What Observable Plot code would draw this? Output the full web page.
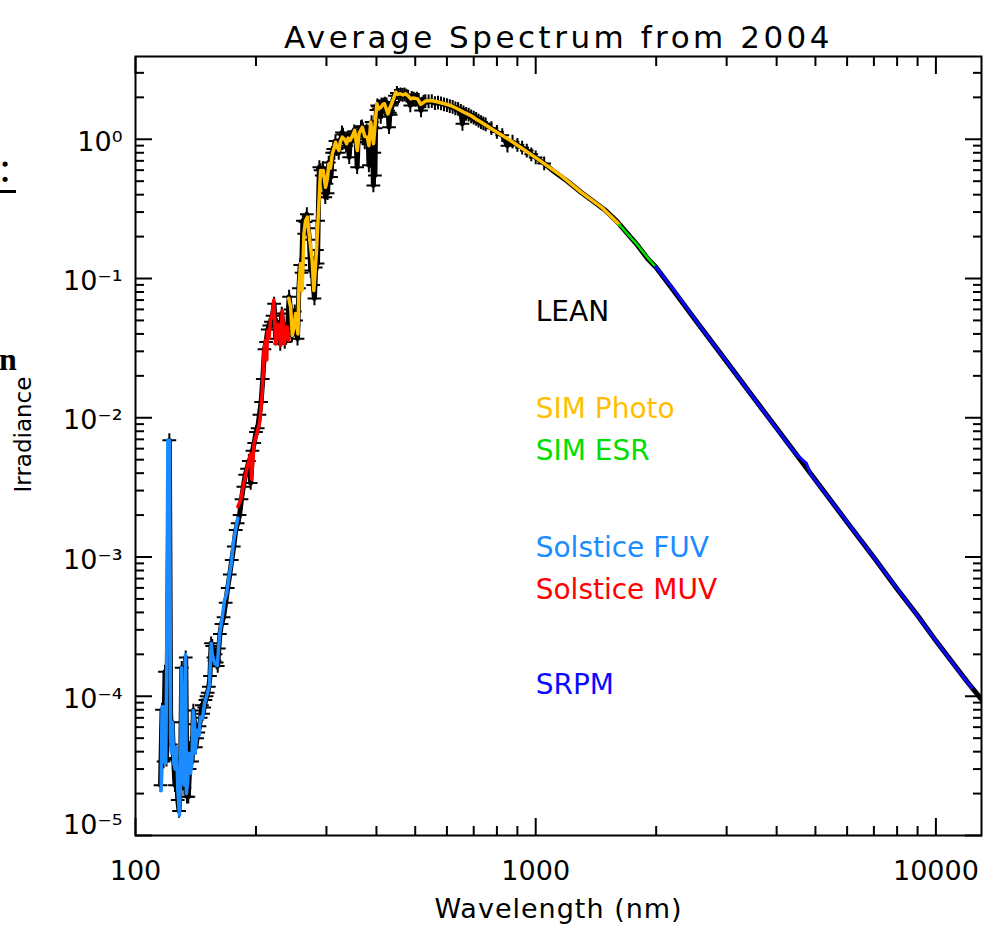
<!DOCTYPE html>
<html><head><meta charset="utf-8">
<script src="https://cdn.jsdelivr.net/npm/d3@7"></script>
<script src="https://cdn.jsdelivr.net/npm/@observablehq/plot@0.6"></script>
<style>
html,body{margin:0;padding:0;background:#fff;overflow:hidden;}
#wrap{position:relative;width:984px;height:928px;}
.side{position:absolute;font-family:"Liberation Serif","DejaVu Serif",serif;color:#000;line-height:1;}
</style></head><body>
<div id="wrap">
  <div class="side" style="left:-1px;top:146px;font-size:44px;">:</div>
  <div style="position:absolute;left:0;top:190px;width:16px;height:3px;background:#000;"></div>
  <div class="side" style="left:-1px;top:343px;font-size:32px;font-weight:bold;">n</div>
</div>
<script>
// ---- Solstice FUV (light blue)
const fuvWave = [115.9,116.5,117.3,117.7,119.0,119.6,120.5,121.6,122.4,123.0,123.7,124.7,125.6,126.6,127.6,128.8,129.6,130.3,131.3,132.3,133.4,134.0,135.0,135.9,137.2,138.3,139.4,140.4,140.9,142.6,144.0,145.3,147.0,148.8,151.1,153.0,154.6,155.5,157.0,158.5,160.1,162.3,164.7,166.9,168.9,171.2,173.5,175.5,177.8,180.2];
const fuvIrr  = [2.1e-5,8.4e-5,8.4e-5,3.4e-5,3.3e-5,1.5e-4,6.9e-3,6.9e-3,5.0e-5,3.9e-5,6.5e-5,3.3e-5,3.0e-5,4.3e-5,2.1e-5,1.4e-5,2.5e-5,1.6e-4,2.8e-5,2.3e-5,2.0e-4,2.0e-5,2.4e-5,3.9e-5,2.8e-5,3.3e-5,7.9e-5,6.5e-5,3.9e-5,5.7e-5,5.2e-5,7.1e-5,6.9e-5,8.9e-5,1.04e-4,1.2e-4,2.4e-4,2.0e-4,1.8e-4,1.7e-4,1.66e-4,2.8e-4,3.7e-4,4.9e-4,5.4e-4,7.2e-4,9.0e-4,1.25e-3,1.56e-3,1.9e-3];

// ---- Solstice MUV (red)
const muvWave = [180.2,183.0,186.6,189.5,192.0,193.9,195.0,197.8,201.0,204.6,207.2,208.4,209.0,211.3,212.8,213.6,215.5,217.4,219.5,221.6,223.0,223.9,226.8,228.5,230.4,232.6,235.6,237.5,239.3,241.5];
const muvIrr  = [2.3e-3,2.55e-3,3.4e-3,4.2e-3,4.9e-3,5.5e-3,3.6e-3,6.5e-3,7.7e-3,9.5e-3,1.49e-2,2.07e-2,2.88e-2,3.6e-2,2.6e-2,4.2e-2,3.7e-2,5.0e-2,5.5e-2,7.0e-2,4.8e-2,3.4e-2,4.7e-2,4.4e-2,3.3e-2,5.9e-2,3.4e-2,4.1e-2,4.5e-2,3.6e-2];

// ---- SIM Photo (orange)
const photoWave = [241.5,244.2,246.5,249,251.2,254.6,256.1,258.5,260.8,263.6,266,268.8,272,276.3,278.9,281,283.3,287.2,290,292,294.5,298.5,301.5,304.3,307,310.3,313,316.2,319,322.3,325,328.7,333,337.1,340,343.6,348,352.9,356,358.3,362,368.7,374,379.6,383,387,393.3,396.4,401,405,410.8,415,418.9,427.4,431,436.5,441,447.2,452,459.3,466,473.2,480,487.5,495,506.8,516,521.9,530,548.3,570,592.9,615,638.9,660,688.7,713.2,729.6,785.6,864.9,1023,1155,1298,1459,1618];
const photoIrr  = [0.072,0.062,0.039,0.045,0.056,0.040,0.087,0.128,0.082,0.21,0.26,0.276,0.20,0.135,0.082,0.11,0.159,0.344,0.597,0.55,0.597,0.453,0.52,0.667,0.62,0.787,0.85,0.953,0.88,0.83,0.96,1.035,1.0,0.93,1.02,0.98,1.05,1.16,0.95,0.83,1.1,1.22,1.05,1.035,0.9,1.33,0.93,1.22,1.8,1.65,1.7,1.78,1.8,1.52,1.65,1.8,1.95,2.18,2.1,2.12,2.08,2.12,2.05,1.95,1.98,1.95,1.78,1.82,1.88,1.9,1.85,1.8,1.74,1.65,1.57,1.48,1.38,1.33,1.16,0.98,0.705,0.55,0.417,0.326,0.244];

// ---- SIM ESR (green)
const esrWave = [1618,1693,1800,1896,1995];
const esrIrr  = [0.244,0.21,0.173,0.143,0.121];

// ---- SRPM (blue)
const srpmWave = [1995,2220,2586,3000,3652,4438,4750,4870,5500,6494,7500,8660,10000,11548,12300];
const srpmIrr  = [0.121,0.082,0.0446,0.0253,0.0118,5.6e-3,4.7e-3,3.9e-3,2.48e-3,1.32e-3,7.6e-4,4.38e-4,2.5e-4,1.44e-4,1.15e-4];

// ---- LEAN (black with + markers)
const leanWave = [115.5,116.5,117.5,118.5,119.5,121.5,122.5,123.5,124.5,125.5,126.5,127.5,128.5,129.5,130.5,131.5,132.5,133.5,134.5,135.5,136.5,137.5,138.5,139.5,140.5,141.5,142.5,143.5,144.5,145.5,146.5,147.5,148.5,149.5,150.5,151.5,152.5,153.5,154.5,155.5,156.5,157.5,158.5,159.5,160.5,161.5,162.5,164,166,168,170,172,174,176,178,180,182,184,186,188,190,192,194,196,198,200,202,204,206,208,210,212,214,216,218,220,222,224,226,228,230,232,234,236,238,240,242,244,246,248,250,252,254,256,258,260,262,264,266,268,270,272,274,276,278,280,282,284,285,286,288,290,292,294,296,298,300,302,304,306,308,310,312,314,316,318,320,322,324,326,328,330,332,334,336,338,340,342,344,346,348,350,352,354,356,358,360,362,364,366,368,370,372,374,376,378,380,382,383,385,387,389,391,393,395,396.5,398,400,402,404,406,408,410,412,414,416,418,420,422,424,426,428,430,432,434,436,438,440,445,450,455,460,465,470,475,480,486,490,495,500,505,510,517,520,525,530,540,550,560,570,580,590,600,610,620,630,640,650,656,660,670,680,690,700,710,720,730,740,750,775,800,825,850,875,900,925,950,975,1000,1050,1100,1200,1300,1400,1500,1600,1700,1800,1900,2000,2200,2500,3000,3500,4000,4500,5000,6000,7000,8000,9000,10000,11000,12000,13000];
const leanIrr  = [2.3e-5,8.0e-5,3.4e-5,1.5e-4,3.5e-5,6.9e-3,4.5e-5,6.5e-5,3.6e-5,2.3e-5,3.6e-5,1.8e-5,1.5e-5,2.4e-5,1.6e-4,2.6e-5,2.2e-5,1.9e-4,1.9e-5,1.9e-5,3.0e-5,4.6e-5,3.4e-5,7.9e-5,6.3e-5,4.3e-5,5.0e-5,5.5e-5,6.1e-5,7.0e-5,8.6e-5,7.5e-5,8.3e-5,9.4e-5,1.0e-4,1.06e-4,1.17e-4,1.4e-4,2.4e-4,2.3e-4,1.9e-4,1.8e-4,2.0e-4,1.75e-4,1.65e-4,2.2e-4,2.8e-4,3.3e-4,3.7e-4,4.7e-4,6.0e-4,7.5e-4,9.5e-4,1.19e-3,1.56e-3,1.75e-3,2.0e-3,2.6e-3,3.2e-3,3.9e-3,4.3e-3,4.9e-3,3.4e-3,5.8e-3,6.6e-3,7.9e-3,8.4e-3,1.05e-2,1.3e-2,1.9e-2,3.1e-2,3.5e-2,4.3e-2,4.6e-2,4.9e-2,5.4e-2,6.6e-2,3.7e-2,4.6e-2,4.5e-2,3.4e-2,5.6e-2,4.2e-2,3.5e-2,4.3e-2,4.4e-2,7.4e-2,6.0e-2,3.9e-2,4.6e-2,5.8e-2,5.0e-2,3.7e-2,8.5e-2,0.125,0.11,0.26,0.21,0.255,0.29,0.23,0.19,0.114,0.14,0.09,0.072,0.12,0.16,0.128,0.26,0.63,0.60,0.55,0.62,0.52,0.384,0.48,0.41,0.68,0.60,0.535,0.80,0.85,0.80,0.97,0.85,0.87,0.80,0.98,0.95,1.12,1.08,1.0,0.95,0.90,0.96,1.0,0.744,1.0,0.98,1.05,1.08,1.14,1.10,0.95,0.63,1.0,1.08,1.12,1.22,1.24,1.18,1.05,0.95,1.12,1.16,1.1,0.92,0.65,0.95,1.2,1.33,1.22,0.466,0.80,0.55,1.2,1.62,1.75,1.72,1.65,1.72,1.45,1.78,1.74,1.76,1.78,1.8,1.72,1.78,1.7,1.6,1.22,1.55,1.5,1.75,1.8,1.85,2.05,2.15,2.08,2.1,2.08,2.1,2.06,2.02,1.75,1.98,1.96,1.93,1.96,1.92,1.61,1.8,1.86,1.88,1.87,1.88,1.82,1.83,1.81,1.78,1.76,1.73,1.71,1.67,1.65,1.6,1.29,1.56,1.52,1.5,1.46,1.43,1.4,1.36,1.33,1.3,1.28,1.2,1.13,1.07,0.90,0.96,0.91,0.87,0.83,0.78,0.74,0.67,0.6,0.5,0.415,0.355,0.305,0.255,0.208,0.172,0.14,0.12,0.0835,0.0507,0.0253,0.014,8.4e-3,5.36e-3,3.57e-3,1.78e-3,9.9e-4,5.9e-4,3.8e-4,2.5e-4,1.75e-4,1.26e-4,9.5e-5];

// ---- axes / labels
const xLabelTicks = [100, 1000, 10000];
const xMajorTicks = [100, 1000, 10000];
const xMinorTicks = [200,300,400,500,600,700,800,900,2000,3000,4000,5000,6000,7000,8000,9000];
const yMajorTicks = [1e-5,1e-4,1e-3,1e-2,1e-1,1];
const yMinorTicks = [2e-5,3e-5,4e-5,5e-5,6e-5,7e-5,8e-5,9e-5,2e-4,3e-4,4e-4,5e-4,6e-4,7e-4,8e-4,9e-4,2e-3,3e-3,4e-3,5e-3,6e-3,7e-3,8e-3,9e-3,2e-2,3e-2,4e-2,5e-2,6e-2,7e-2,8e-2,9e-2,0.2,0.3,0.4,0.5,0.6,0.7,0.8,0.9,2,3];
const titleText = "Average Spectrum from 2004";
const xTitle = "Wavelength (nm)";
const yTitle = "Irradiance";

// ---- legend (in-plot labels)
const legendLabels = ["LEAN","SIM Photo","SIM ESR","Solstice FUV","Solstice MUV","SRPM"];
const legendColors = ["#000000","#FFBF00","#00E000","#1A8CFF","#FF0000","#0A0AFF"];
const legendY = [0.0574,0.0116,0.00576,0.00116,0.000583,0.00012];
const legendX = 1000;

const rows = (w, v) => w.map((d, i) => ({w: d, v: v[i]}));
const lean = rows(leanWave, leanIrr);
const leanMarks = lean.filter(d => d.w < 1100);
const fuv = rows(fuvWave, fuvIrr);
const muv = rows(muvWave, muvIrr);
const photo = rows(photoWave, photoIrr);
const esr = rows(esrWave, esrIrr);
const srpm = rows(srpmWave, srpmIrr);
const legend = legendLabels.map((t, i) => ({t, c: legendColors[i], y: legendY[i], x: legendX}));

const supMap = {"0":"⁰","1":"¹","2":"²","3":"³","4":"⁴","5":"⁵","6":"⁶","7":"⁷","8":"⁸","9":"⁹","-":"⁻"};
const supFmt = d => "10" + String(Math.round(Math.log10(d))).split("").map(c => supMap[c]).join("");

const FONT = "'DejaVu Sans', sans-serif";
const tickCommon = {label: null, tickFormat: () => "", strokeWidth: 2};

const chart = Plot.plot({
  width: 984, height: 928,
  marginLeft: 135, marginRight: 3, marginTop: 56, marginBottom: 93,
  x: {type: "log", domain: [100, 13000]},
  y: {type: "log", domain: [1e-5, 3.93]},
  color: {type: "identity"},
  style: {fontFamily: FONT, background: "white", color: "black", overflow: "visible"},
  marks: [
    Plot.line(lean, {x: "w", y: "v", stroke: "black", strokeWidth: 5, clip: true}),
    Plot.dot(leanMarks, {x: "w", y: "v", symbol: "plus", r: 4.5, stroke: "black", strokeWidth: 2, clip: true}),
    Plot.line(fuv, {x: "w", y: "v", stroke: legendColors[3], strokeWidth: 3.5, clip: true}),
    Plot.line(muv, {x: "w", y: "v", stroke: legendColors[4], strokeWidth: 3.5, clip: true}),
    Plot.line(photo, {x: "w", y: "v", stroke: legendColors[1], strokeWidth: 3.5, clip: true}),
    Plot.line(esr, {x: "w", y: "v", stroke: legendColors[2], strokeWidth: 2.5, clip: true}),
    Plot.line(srpm, {x: "w", y: "v", stroke: legendColors[5], strokeWidth: 3, clip: true}),
    Plot.frame({stroke: "black", strokeWidth: 2}),
    Plot.axisX(xMajorTicks, {anchor: "bottom", tickSize: -17, ...tickCommon}),
    Plot.axisX(xMajorTicks, {anchor: "top", tickSize: -17, ...tickCommon}),
    Plot.axisX(xMinorTicks, {anchor: "bottom", tickSize: -9, ...tickCommon}),
    Plot.axisX(xMinorTicks, {anchor: "top", tickSize: -9, ...tickCommon}),
    Plot.axisY(yMajorTicks, {anchor: "left", tickSize: -17, ...tickCommon}),
    Plot.axisY(yMajorTicks, {anchor: "right", tickSize: -17, ...tickCommon}),
    Plot.axisY(yMinorTicks, {anchor: "left", tickSize: -9, ...tickCommon}),
    Plot.axisY(yMinorTicks, {anchor: "right", tickSize: -9, ...tickCommon}),
    Plot.axisX(xLabelTicks, {anchor: "bottom", tickSize: 0, tickPadding: 25, fontSize: 27, label: null, tickFormat: d => String(d)}),
    Plot.axisY(yMajorTicks.slice(1), {anchor: "left", tickSize: 0, tickPadding: 13, fontSize: 27, label: null, tickFormat: supFmt, dy: 3}),
    Plot.axisY(yMajorTicks.slice(0, 1), {anchor: "left", tickSize: 0, tickPadding: 13, fontSize: 27, label: null, tickFormat: supFmt, dy: -10}),
    Plot.text(legend, {x: "x", y: "y", text: "t", fill: "c", textAnchor: "start", fontSize: 28}),
    Plot.text([titleText], {frameAnchor: "top", dy: -31, fontSize: 31, fill: "black"}),
    Plot.text([xTitle], {frameAnchor: "bottom", dy: 82, fontSize: 27, fill: "black"}),
    Plot.text([yTitle], {frameAnchor: "left", fontSize: 23, fill: "black"})
  ]
});
const svg = d3.select(chart);
svg.selectAll("text").filter(function() { return this.textContent === titleText; }).attr("letter-spacing", "3.5px");
svg.selectAll("text").filter(function() { return this.textContent === xTitle; }).attr("letter-spacing", "1px");
svg.selectAll("text").filter(function() { return this.textContent === yTitle; })
  .attr("x", null).attr("y", null).attr("text-anchor", "middle")
  .attr("transform", "translate(30,434) rotate(-90)");
chart.style.position = "absolute";
chart.style.left = "0px";
chart.style.top = "0px";
document.getElementById("wrap").prepend(chart);
</script>
</body></html>
